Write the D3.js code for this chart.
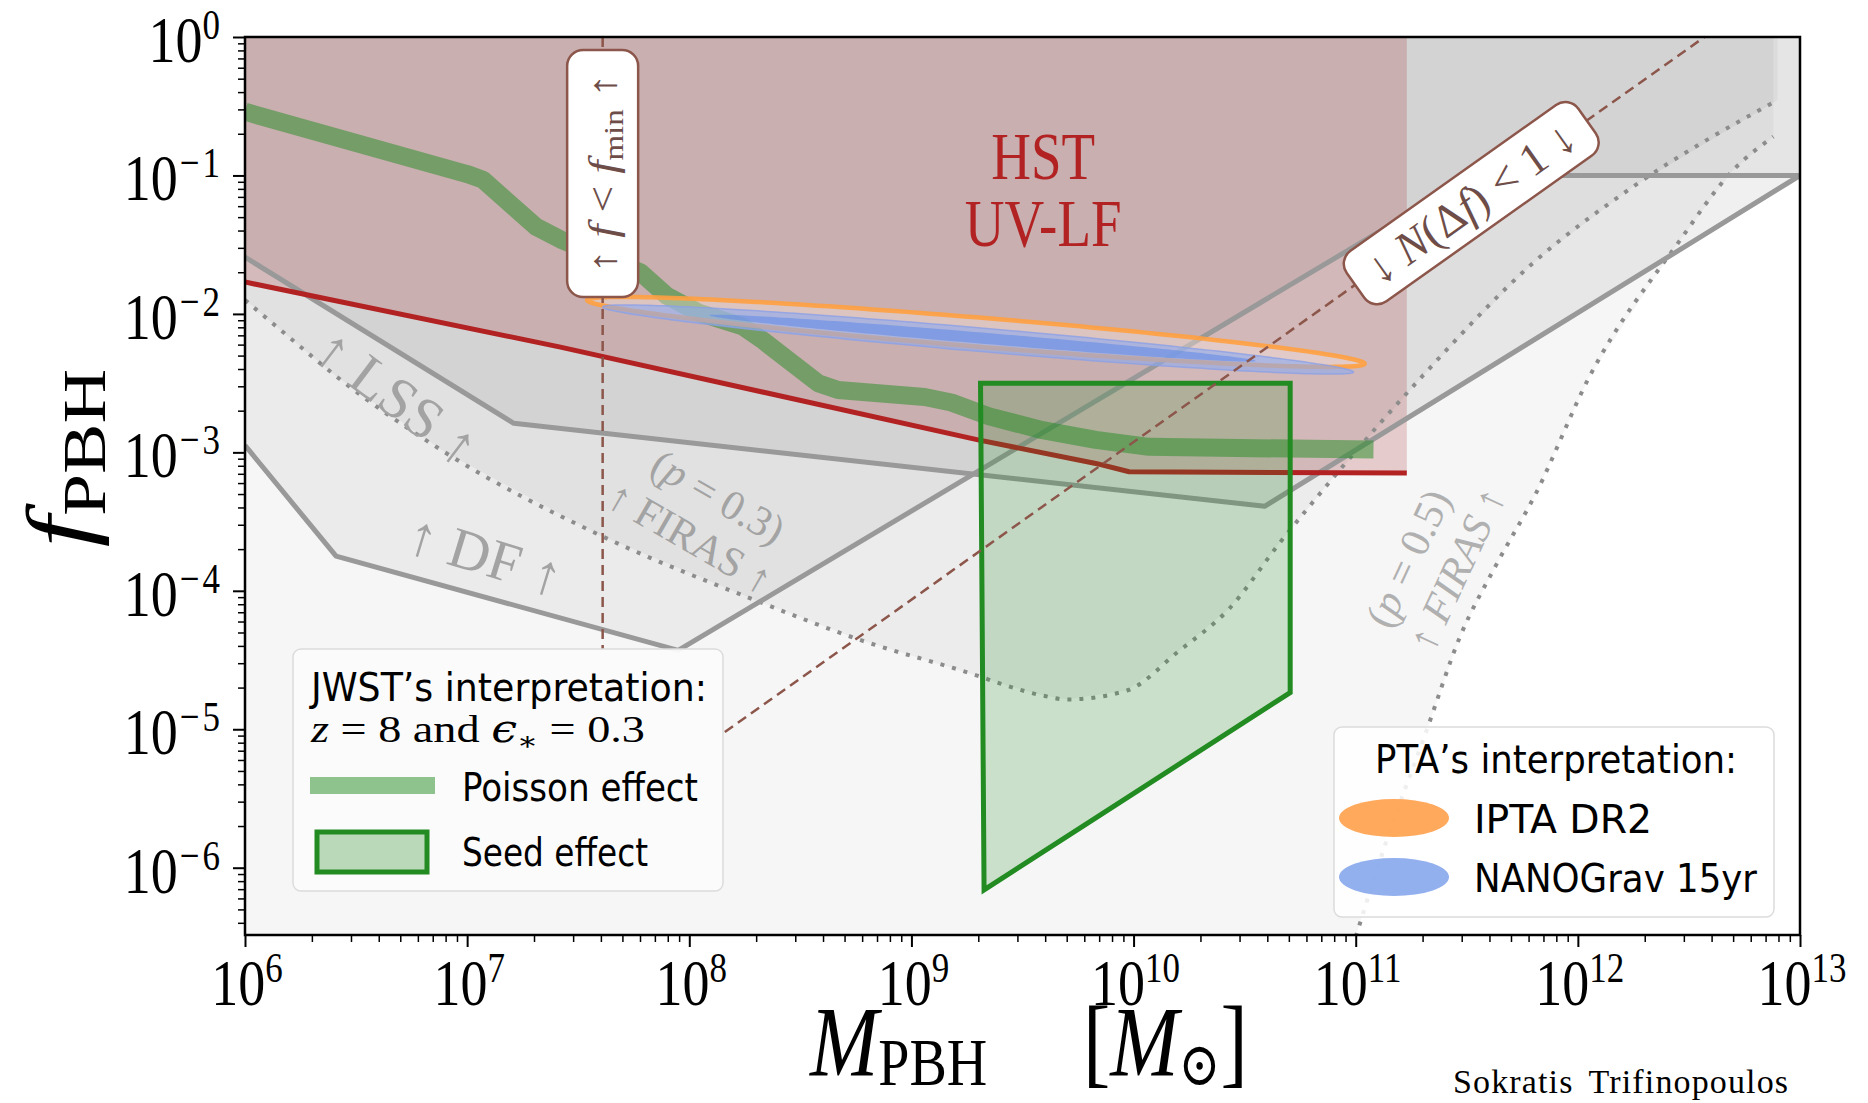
<!DOCTYPE html>
<html>
<head>
<meta charset="utf-8">
<script src="https://cdn.jsdelivr.net/npm/d3@7"></script>
<style>
  html, body { margin: 0; padding: 0; background: #fff; }
  svg text { font-family: "Liberation Serif", "DejaVu Serif", serif; }
  svg text.sans { font-family: "Liberation Sans Narrow", "DejaVu Sans Condensed", "Roboto", sans-serif; }
</style>
</head>
<body>
<div id="chart"></div>
<script>
// values, every pair is [log10 M_PBH/M_sun, log10 f_PBH]
const hstBound = [[6.0,-1.77],[7.42,-2.24],[9.30,-2.91],[9.83,-3.08],[9.98,-3.14],[11.23,-3.15]];
const hstEdge = 11.23;
const poissonBand = [[6.0,-0.54],[7.0,-0.99],[7.07,-1.03],[7.31,-1.37],[7.43,-1.47],[7.78,-1.70],[7.90,-1.87],
	[8.04,-1.99],[8.24,-2.09],[8.33,-2.19],[8.58,-2.50],[8.67,-2.55],[9.06,-2.60],[9.18,-2.64],[9.35,-2.74],
	[9.59,-2.84],[9.83,-2.91],[10.07,-2.96],[10.55,-2.97],[11.08,-2.98]];
const seedRegion = [[9.311,-2.50],[10.705,-2.50],[10.705,-4.735],[9.83,-5.64],[9.327,-6.16]];
const lssBound = [[6.0,-1.59],[7.21,-2.79],[10.59,-3.39],[13.0,-1.0]];
const dfBound = [[6.0,-2.95],[6.41,-3.75],[7.95,-4.43],[11.53,-1.0],[13.0,-1.0]];
const firas03 = [[6.0,-1.90],[6.2,-2.17],[6.41,-2.45],[6.9,-3.0],[7.6,-3.6],[8.3,-4.07],[8.76,-4.35],[9.31,-4.62],
	[9.40,-4.67],[9.60,-4.76],[9.70,-4.785],[9.97,-4.72],[10.2,-4.44],[10.43,-4.13],[10.66,-3.65],[10.89,-3.20],
	[11.30,-2.45],[11.8,-1.63],[12.25,-1.08],[12.9,-0.455]];
const firas05 = [[11.0,-6.5],[11.14,-5.80],[11.31,-5.05],[11.47,-4.33],[11.63,-3.82],[11.81,-3.30],[12.05,-2.46],
	[12.45,-1.49],[12.70,-0.96],[12.88,-0.72]];
const fminLine = [[7.61,0.0],[7.61,-4.42]];
const nLine = [[8.16,-5.02],[12.57,0.0]];
// contours: both ends of the long axis and the half width (in decades of f)
const iptaContour = {left: [7.54,-1.90], right: [11.04,-2.36], half: 0.105};
const nanoContour = {left: [7.61,-1.95], right: [10.99,-2.42], half: 0.085};
const nanoCore = {left: [8.09,-2.01], right: [10.55,-2.34], half: 0.04};
const xExponents = [6,7,8,9,10,11,12,13];
const yExponents = [0,-1,-2,-3,-4,-5,-6];
const jwstEntries = ['Poisson effect', 'Seed effect'];
const ptaEntries = ['IPTA DR2', 'NANOGrav 15yr'];

const W = 1868, H = 1103;
const frame = {left: 245, right: 1800, top: 37, bottom: 935};
const stretch = 1.22; // the picture was resized taller than wide, text too
const yMin = Math.pow(10, -6.486);

const x = d3.scaleLog().domain([1e6, 1e13]).range([frame.left, frame.right]);
const y = d3.scaleLog().domain([yMin, 1]).range([frame.bottom, frame.top]);
const px = d => x(Math.pow(10, d[0]));
const py = d => y(Math.pow(10, d[1]));
const line = d3.line().x(px).y(py);

const svg = d3.select('#chart').append('svg')
	.attr('width', W)
	.attr('height', H)
	.style('display', 'block')
	.style('background', '#fff');

svg.append('clipPath').attr('id', 'plotClip')
	.append('rect')
	.attr('x', frame.left).attr('y', frame.top)
	.attr('width', frame.right - frame.left)
	.attr('height', frame.bottom - frame.top);

const plot = svg.append('g').attr('clip-path', 'url(#plotClip)');

renderRegions();
renderCurves();
renderLabels();
renderAxes();
renderLegends();

//text group helper: translate, rotate, then scale
function place(parent, x0, y0, rot, sx, sy) {
	return parent.append('g')
		.attr('transform', 'translate(' + x0 + ',' + y0 + ') rotate(' + (rot || 0) + ') scale(' + (sx || 1) + ',' + (sy || 1) + ')');
}

//parts are [string, options] with it / size / dy / dx / family
function mathText(parent, parts, size, anchor) {
	let t = parent.append('text')
		.attr('text-anchor', anchor || 'start')
		.style('font-size', size + 'px');
	parts.forEach(function(p) {
		let o = p[1] || {};
		let s = t.append('tspan').text(p[0]);
		if (o.it) s.style('font-style', 'italic');
		if (o.size) s.style('font-size', o.size + 'px');
		if (o.dy) s.attr('dy', o.dy);
		if (o.dx) s.attr('dx', o.dx);
		if (o.family) s.style('font-family', o.family);
	});
	return t;
}

function closedArea(points, topLeft, topRight) {
	//region above a bound, closed along the top edge
	return line(points.concat([[topRight, 0.2], [topLeft, 0.2]])) + 'Z';
}

function renderRegions() {
	//firas p=0.5, everything left of / above the curve
	let p05 = [[6.0, -6.6], [firas05[0][0], -6.6]].concat(firas05);
	plot.append('path')
		.attr('d', closedArea(p05, 6.0, firas05[firas05.length - 1][0]))
		.attr('fill', '#000').attr('fill-opacity', 0.035);
	//firas p=0.3
	plot.append('path')
		.attr('d', closedArea(firas03, 6.0, firas03[firas03.length - 1][0]))
		.attr('fill', '#000').attr('fill-opacity', 0.04);
	//dynamical friction
	plot.append('path')
		.attr('d', closedArea(dfBound, 6.0, 13.0))
		.attr('fill', '#000').attr('fill-opacity', 0.045);
	//large scale structure
	plot.append('path')
		.attr('d', closedArea(lssBound, 6.0, 13.0))
		.attr('fill', '#000').attr('fill-opacity', 0.06);
	//hst uv luminosity function
	plot.append('path')
		.attr('d', closedArea(hstBound, 6.0, hstEdge))
		.attr('fill', 'rgb(165,42,42)').attr('fill-opacity', 0.21);
}

function ellipsePath(c) {
	let p1 = [px(c.left), py(c.left)], p2 = [px(c.right), py(c.right)];
	let cx = (p1[0] + p2[0]) / 2, cy = (p1[1] + p2[1]) / 2;
	let ax = (p2[0] - p1[0]) / 2, ay = (p2[1] - p1[1]) / 2;
	let len = Math.sqrt(ax * ax + ay * ay);
	let halfPx = y(Math.pow(10, -c.half)) - y(1);
	let bx = -ay / len * halfPx, by = ax / len * halfPx;
	let pts = d3.range(0, 2 * Math.PI, 0.03).map(function(t) {
		return [cx + ax * Math.cos(t) + bx * Math.sin(t), cy + ay * Math.cos(t) + by * Math.sin(t)];
	});
	return d3.line().curve(d3.curveLinearClosed)(pts);
}

function renderCurves() {
	//firas dotted bounds
	[firas03, firas05].forEach(function(curve) {
		plot.append('path')
			.attr('d', d3.line().x(px).y(py).curve(d3.curveMonotoneX)(curve))
			.attr('fill', 'none')
			.attr('stroke', '#8c8c8c')
			.attr('stroke-width', 4)
			.attr('stroke-dasharray', '4,8');
	});
	//lss and df solid bounds
	[lssBound, dfBound].forEach(function(curve) {
		plot.append('path')
			.attr('d', line(curve))
			.attr('fill', 'none')
			.attr('stroke', '#999')
			.attr('stroke-width', 5)
			.attr('stroke-linejoin', 'round');
	});
	plot.append('path')
		.attr('d', line(hstBound))
		.attr('fill', 'none')
		.attr('stroke', '#b22222')
		.attr('stroke-width', 5)
		.attr('stroke-linejoin', 'round');
	//poisson band
	plot.append('path')
		.attr('d', line(poissonBand))
		.attr('fill', 'none')
		.attr('stroke', 'rgb(34,139,34)')
		.attr('stroke-opacity', 0.5)
		.attr('stroke-width', 18)
		.attr('stroke-linejoin', 'round');
	//seed region
	plot.append('path')
		.attr('d', line(seedRegion) + 'Z')
		.attr('fill', 'rgb(34,139,34)')
		.attr('fill-opacity', 0.2)
		.attr('stroke', '#228b22')
		.attr('stroke-width', 5);
	//pta contours
	plot.append('path')
		.attr('d', ellipsePath(iptaContour))
		.attr('fill', 'rgba(255,235,225,0.35)')
		.attr('stroke', '#ffa040')
		.attr('stroke-width', 4.5)
		.attr('stroke-opacity', 0.9);
	plot.append('path')
		.attr('d', ellipsePath(nanoContour))
		.attr('fill', 'rgba(140,170,240,0.6)')
		.attr('stroke', 'rgba(140,160,230,0.8)')
		.attr('stroke-width', 1.5);
	plot.append('path')
		.attr('d', ellipsePath(nanoCore))
		.attr('fill', 'rgba(100,140,230,0.6)');
	//dashed guides
	[fminLine, nLine].forEach(function(guide) {
		plot.append('path')
			.attr('d', line(guide))
			.attr('stroke', '#8c564b')
			.attr('stroke-width', 2.5)
			.attr('stroke-dasharray', '10,6');
	});
}

function renderLabels() {
	let boxStroke = '#8c564b', boxText = '#6e4d48';

	//f < f_min box on the vertical guide
	let g1 = place(plot, px(fminLine[0]), py([0, -0.986]), 0);
	g1.append('rect')
		.attr('x', -35.5).attr('y', -123.5)
		.attr('width', 71).attr('height', 247)
		.attr('rx', 16)
		.attr('fill', '#fff')
		.attr('stroke', boxStroke)
		.attr('stroke-width', 2.5);
	let t1 = mathText(place(g1, 0, 0, -90, stretch, 1),
		[['↑ '], ['f', {it: true}], [' < '], ['f', {it: true}], ['min', {size: 27, dy: 7}], [' ↑', {dy: -7}]], 39, 'middle');
	t1.attr('dy', 13).attr('fill', boxText);

	//N(delta f) < 1 box along the diagonal guide
	let angle = Math.atan2(py(nLine[1]) - py(nLine[0]), px(nLine[1]) - px(nLine[0])) * 180 / Math.PI;
	let g2 = place(plot, px([11.52, 0]), py([0, -1.20]), angle);
	g2.append('rect')
		.attr('x', -142).attr('y', -31)
		.attr('width', 284).attr('height', 62)
		.attr('rx', 16)
		.attr('fill', '#fff')
		.attr('stroke', boxStroke)
		.attr('stroke-width', 2.5);
	mathText(g2, [['↓ '], ['N', {it: true}], ['(Δ'], ['f', {it: true}], [') < 1 ↓']], 46, 'middle')
		.attr('y', 15).attr('fill', boxText);

	//hst label
	[['HST', -1.025], ['UV-LF', -1.509]].forEach(function(d) {
		mathText(place(plot, px([9.593, 0]), py([0, d[1]]), 0, 1, stretch), [[d[0]]], 55, 'middle')
			.attr('fill', '#b22222');
	});

	//constraint labels
	let grey = '#a3a3a3';
	mathText(place(plot, px([6.684, 0]), py([0, -2.606]), 37), [['↑ LSS ↑']], 58, 'middle')
		.attr('y', 19).attr('fill', grey);
	mathText(place(plot, px([7.081, 0]), py([0, -3.747]), 17), [['↑ DF ↑']], 57, 'middle')
		.attr('y', 19).attr('fill', grey);
	mathText(place(plot, px([8.13, 0]), py([0, -3.321]), 30), [['('], ['p', {it: true}], [' = 0.3)']], 42, 'middle')
		.attr('y', 14).attr('fill', grey);
	mathText(place(plot, px([8.004, 0]), py([0, -3.617]), 30), [['↑ FIRAS ↑']], 42, 'middle')
		.attr('y', 14).attr('fill', grey);
	mathText(place(plot, px([11.236, 0]), py([0, -3.766]), -65), [['('], ['p', {it: true}], [' = 0.5)']], 42, 'middle')
		.attr('y', 14).attr('fill', '#b0b0b0');
	mathText(place(plot, px([11.455, 0]), py([0, -3.843]), -65), [['↑ '], ['FIRAS', {it: true}], [' ↑']], 42, 'middle')
		.attr('y', 14).attr('fill', '#b0b0b0');
}

function expLabel(parent, e, anchor) {
	let parts = [['10']];
	if (e < 0) {
		parts.push(['−', {size: 35, dy: -19, dx: 2}]);
		parts.push([String(-e), {size: 35, dx: 3}]);
	} else {
		parts.push([String(e), {size: 35, dy: -19}]);
	}
	return mathText(parent, parts, 54, anchor);
}

function renderAxes() {
	let minorX = [], minorY = [];
	for (let e = 6; e < 13; e++) {
		for (let k = 2; k < 10; k++) minorX.push(k * Math.pow(10, e));
	}
	for (let e = -7; e < 0; e++) {
		for (let k = 2; k < 10; k++) {
			let v = k * Math.pow(10, e);
			if (v >= yMin) minorY.push(v);
		}
	}
	let majorX = xExponents.map(e => Math.pow(10, e));
	let majorY = yExponents.map(e => Math.pow(10, e));

	let axes = svg.append('g');
	let gx1 = axes.append('g').attr('transform', 'translate(0,' + frame.bottom + ')')
		.call(d3.axisBottom(x).tickValues(minorX).tickSize(7).tickFormat(''));
	let gx2 = axes.append('g').attr('transform', 'translate(0,' + frame.bottom + ')')
		.call(d3.axisBottom(x).tickValues(majorX).tickSize(12).tickFormat(''));
	let gy1 = axes.append('g').attr('transform', 'translate(' + frame.left + ',0)')
		.call(d3.axisLeft(y).tickValues(minorY).tickSize(7).tickFormat(''));
	let gy2 = axes.append('g').attr('transform', 'translate(' + frame.left + ',0)')
		.call(d3.axisLeft(y).tickValues(majorY).tickSize(12).tickFormat(''));
	[gx1, gx2, gy1, gy2].forEach(function(g) {
		g.select('.domain').remove();
	});
	[gx1, gy1].forEach(g => g.selectAll('line').attr('stroke', '#000').attr('stroke-width', 1.5));
	[gx2, gy2].forEach(g => g.selectAll('line').attr('stroke', '#000').attr('stroke-width', 2));

	//tick labels as 10^n
	xExponents.forEach(function(e) {
		expLabel(place(axes, x(Math.pow(10, e)) + 2, 1005, 0, 1, stretch), e, 'middle');
	});
	yExponents.forEach(function(e) {
		expLabel(place(axes, 220, y(Math.pow(10, e)) + 25, 0, 1, stretch), e, 'end');
	});

	//axis titles
	mathText(place(axes, 90, 458, -90, stretch, 1), [['f', {it: true}], ['PBH', {size: 62, dy: 15}]], 92, 'middle');
	mathText(place(axes, 810, 1075, 0, 1, stretch), [['M', {it: true}], ['PBH', {size: 56, dy: 8}]], 82);
	mathText(place(axes, 1083, 1075, 0, 1, stretch),
		[['['], ['M', {it: true}], ['⊙', {size: 50, dy: 8, family: 'DejaVu Serif'}], [']', {dy: -8}]], 82);
	svg.append('text')
		.attr('x', 1453).attr('y', 1093)
		.attr('textLength', 335)
		.style('font-size', '34px')
		.style('word-spacing', '6px')
		.text('Sokratis Trifinopoulos');

	//frame
	svg.append('rect')
		.attr('x', frame.left).attr('y', frame.top)
		.attr('width', frame.right - frame.left)
		.attr('height', frame.bottom - frame.top)
		.attr('fill', 'none')
		.attr('stroke', '#000')
		.attr('stroke-width', 2.5);
}

function sansText(parent, x0, y0, str, len, anchor) {
	return place(parent, x0, y0, 0, 1, stretch).append('text')
		.attr('class', 'sans')
		.attr('text-anchor', anchor || 'start')
		.attr('textLength', len)
		.attr('lengthAdjust', 'spacingAndGlyphs')
		.style('font-size', '32px')
		.text(str);
}

function renderLegends() {
	let leg = svg.append('g');

	//jwst legend
	leg.append('rect')
		.attr('x', 293).attr('y', 649).attr('width', 430).attr('height', 242)
		.attr('rx', 8)
		.attr('fill', '#fbfbfb').attr('fill-opacity', 0.95)
		.attr('stroke', '#dcdcdc').attr('stroke-width', 1.5);
	sansText(leg, 311, 701, 'JWST\u2019s interpretation:', 396);
	mathText(place(leg, 311, 742, 0, 1, 1.08),
		[['z', {it: true}], [' = 8 and '], ['ϵ', {it: true, family: 'DejaVu Serif'}], ['∗', {size: 24, dy: 7}], [' = 0.3', {dy: -7}]], 36)
		.attr('textLength', 334)
		.attr('lengthAdjust', 'spacingAndGlyphs');
	leg.append('line')
		.attr('x1', 310).attr('x2', 435).attr('y1', 785.5).attr('y2', 785.5)
		.attr('stroke', 'rgb(34,139,34)').attr('stroke-opacity', 0.5)
		.attr('stroke-width', 17);
	sansText(leg, 462, 801, jwstEntries[0], 236);
	leg.append('rect')
		.attr('x', 317).attr('y', 832).attr('width', 110).attr('height', 40)
		.attr('fill', 'rgb(34,139,34)').attr('fill-opacity', 0.3)
		.attr('stroke', '#228b22').attr('stroke-width', 5);
	sansText(leg, 462, 866, jwstEntries[1], 186);

	//pta legend
	leg.append('rect')
		.attr('x', 1334).attr('y', 727).attr('width', 440).attr('height', 190)
		.attr('rx', 8)
		.attr('fill', '#fff').attr('fill-opacity', 0.85)
		.attr('stroke', '#dcdcdc').attr('stroke-width', 1.5);
	sansText(leg, 1556, 773, 'PTA\u2019s interpretation:', 362, 'middle');
	leg.append('ellipse')
		.attr('cx', 1394).attr('cy', 818).attr('rx', 55).attr('ry', 19)
		.attr('fill', '#ffa04a').attr('fill-opacity', 0.9);
	sansText(leg, 1474, 833, ptaEntries[0], 178);
	leg.append('ellipse')
		.attr('cx', 1394).attr('cy', 877).attr('rx', 55).attr('ry', 19)
		.attr('fill', '#86a6ec').attr('fill-opacity', 0.9);
	sansText(leg, 1474, 892, ptaEntries[1], 283);
}
</script>
</body>
</html>
